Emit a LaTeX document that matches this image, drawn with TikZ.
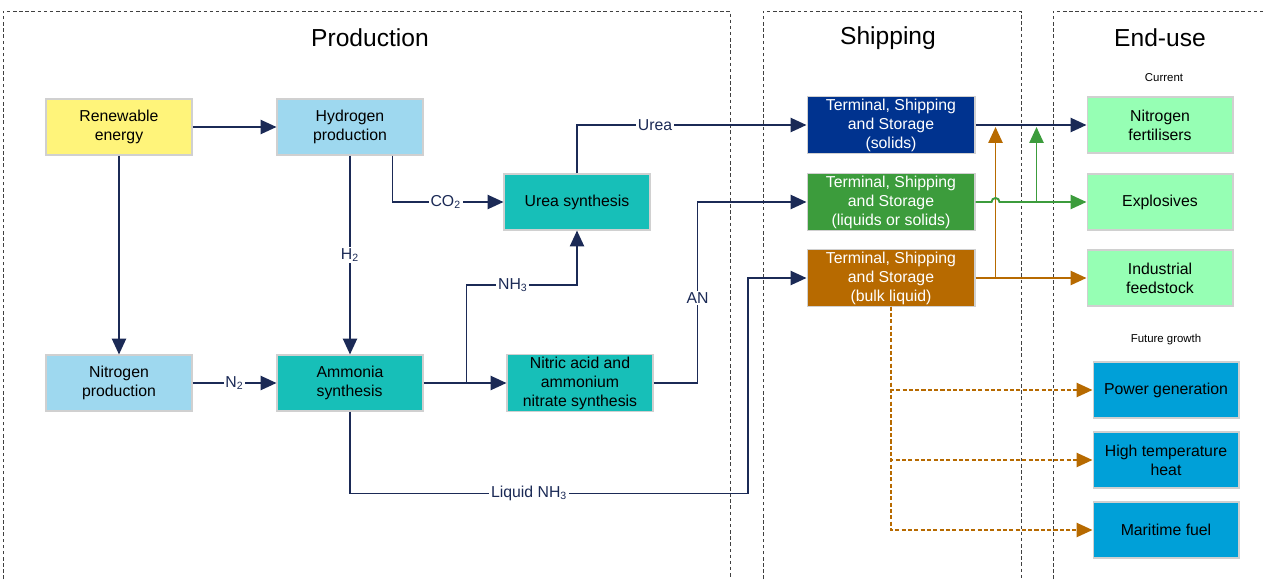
\documentclass[tikz,border=0pt]{standalone}
\usepackage{fontspec}
\setmainfont{Liberation Sans}
\usetikzlibrary{arrows.meta}
\definecolor{linec}{HTML}{1B2A56}
\definecolor{boxline}{HTML}{D0D0D0}
\definecolor{yellowc}{HTML}{FFF47A}
\definecolor{lblue}{HTML}{9ED8EF}
\definecolor{tealc}{HTML}{17BFB8}
\definecolor{navyc}{HTML}{00338F}
\definecolor{greenc}{HTML}{3C9C3C}
\definecolor{brownc}{HTML}{B76A00}
\definecolor{mint}{HTML}{96FFB4}
\definecolor{futblue}{HTML}{00A0D8}
\tikzset{
  box/.style={draw=boxline, line width=0.6pt, minimum width=2.92cm, minimum height=1.12cm,
    inner sep=1pt, align=center, text=black, font=\fontsize{9}{10.8}\selectfont},
  term/.style={box, minimum width=3.36cm, text=white},
  arr/.style={color=linec, line width=1.1pt, -{Triangle[length=9pt,width=8pt]}},
  arrg/.style={arr, color=greenc},
  arrb/.style={arr, color=brownc},
  fut/.style={arrb, dash pattern=on 2.3pt off 1.3pt},
  lbl/.style={fill=white, inner sep=1pt, text=linec, font=\fontsize{9}{10.8}\selectfont},
  panel/.style={draw=black!75, line width=0.5pt, dash pattern=on 2pt off 1.5pt},
  title/.style={font=\fontsize{14}{16}\selectfont},
  small/.style={font=\fontsize{6.5}{8}\selectfont}
}
\begin{document}
\begin{tikzpicture}[x=0.02cm,y=-0.02cm]
\useasboundingbox (0,0) rectangle (1264,579);
\draw [panel] (3,579) |- (730,11) -- (730,579);
\draw [panel] (763,579) |- (1021,11) -- (1021,579);
\draw [panel] (1053,579) |- (1264,11);
\node [title] (tprod) at (370,38) {Production};
\node [title] (tship) at (888,38) {Shipping};
\node [title] (tend) at (1160,38) {End-use};
\node [small] (cur) at (1164,78) {Current};
\node [small] (fgr) at (1166,340) {Future growth};
\node [box, fill=yellowc] (ren) at (119,127) {Renewable\\energy};
\node [box, fill=lblue] (hyd) at (350,127) {Hydrogen\\production};
\node [box, fill=tealc] (urea) at (577,202) {Urea synthesis};
\node [box, fill=lblue] (nprod) at (119,383) {Nitrogen\\production};
\node [box, fill=tealc, align=left] (amm) at (350,383) {Ammonia\\synthesis};
\node [box, fill=tealc] (nitric) at (580,383) {Nitric acid and\\ammonium\\nitrate synthesis};
\node [term, fill=navyc] (tsol) at (891,125) {Terminal, Shipping\\and Storage\\(solids)};
\node [term, fill=greenc] (tliq) at (891,202) {Terminal, Shipping\\and Storage\\(liquids or solids)};
\node [term, fill=brownc] (tbulk) at (891,278) {Terminal, Shipping\\and Storage\\(bulk liquid)};
\node [box, fill=mint] (nfert) at (1160,125) {Nitrogen\\fertilisers};
\node [box, fill=mint] (expl) at (1160,202) {Explosives};
\node [box, fill=mint] (ifeed) at (1160,278) {Industrial\\feedstock};
\node [box, fill=futblue] (pgen) at (1166,390) {Power generation};
\node [box, fill=futblue] (heat) at (1166,460) {High temperature\\heat};
\node [box, fill=futblue] (mfuel) at (1166,530) {Maritime fuel};
\draw [arr] (ren) edge (hyd);
\draw [arr] (ren) edge (nprod);
\draw [arr] (hyd) -- node [lbl] {H\textsubscript{2}} (amm);
\draw [arr] (hyd.south east) ++(-31,0) |- node [lbl,pos=0.74] {CO\textsubscript{2}} (urea);
\draw [arr] (nprod) -- node [lbl] {N\textsubscript{2}} (amm);
\draw [arr] (amm) edge (nitric);
\draw [arr] (amm.east) ++(43,0) -- ++(0,-98) -| node [lbl,pos=0.21] {NH\textsubscript{3}} (urea.south);
\draw [arr] (urea) |- node [lbl,pos=0.67] {Urea} (tsol);
\draw [arr] (nitric.east) -- ++(44,0) |- node [lbl,pos=0.235] {AN} (tliq);
\draw [arr] (amm.south) -- ++(0,82) -- node [lbl,pos=0.45] {Liquid NH\textsubscript{3}} ++(398,0) |- (tbulk);
\draw [arr] (tsol) edge (nfert);
\draw [arrb] (tbulk) edge (ifeed);
\draw [arrb] (tbulk.east) ++(20,0) -- ++(0,-151);
\draw [arrg] (tliq.east) -- ++(16,0) arc [start angle=180, end angle=0, radius=0.08cm] -- (expl.west);
\draw [arrg] (tliq.east) ++(61,0) -- ++(0,-75);
\draw [fut] (tbulk.south) |- (pgen);
\draw [fut] (tbulk.south) |- (heat);
\draw [fut] (tbulk.south) |- (mfuel);
\end{tikzpicture}
\end{document}
